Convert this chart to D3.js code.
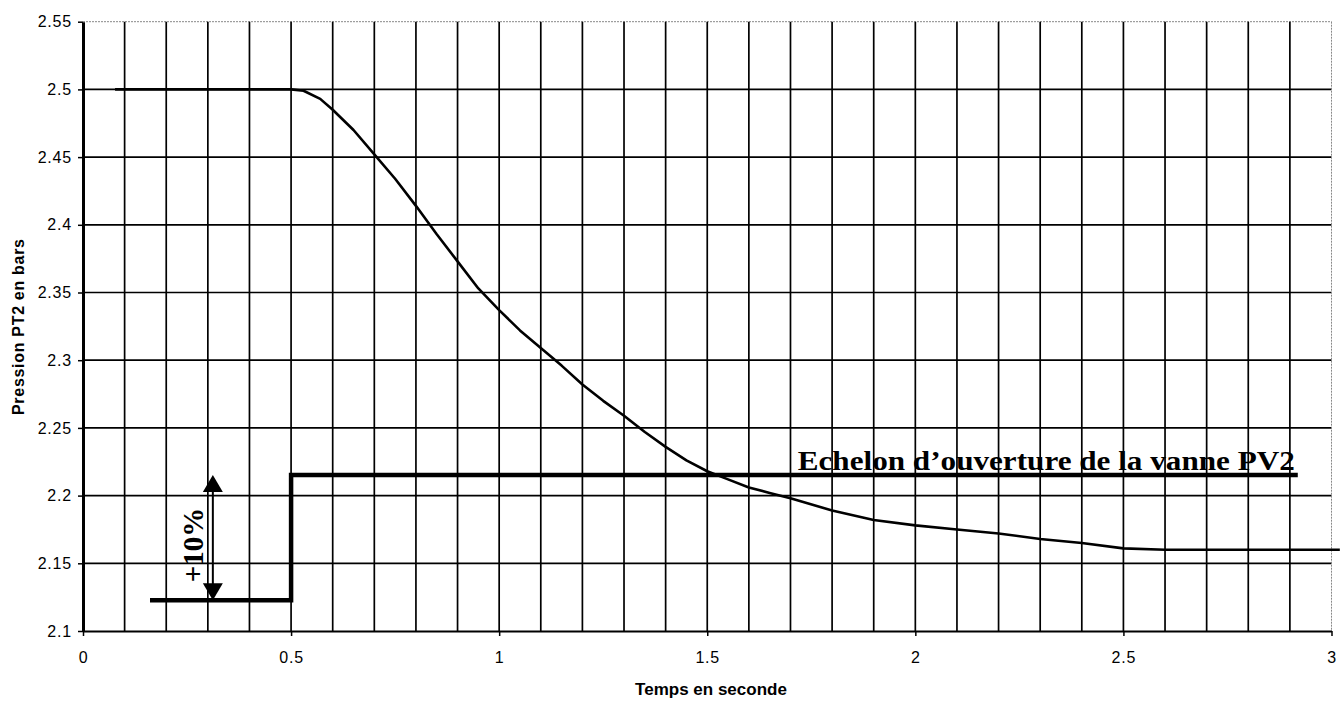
<!DOCTYPE html>
<html>
<head>
<meta charset="utf-8">
<script src="https://cdn.jsdelivr.net/npm/d3@7"></script>
<style>
  html, body { margin: 0; padding: 0; background: #fff; }
  svg { display: block; }
  .tick-lbl { font-family: "Liberation Sans", Arial, sans-serif; font-size: 16px; letter-spacing: 0.8px; fill: #000; }
  .ax-title { font-family: "Liberation Sans", Arial, sans-serif; font-weight: bold; fill: #000; }
  .note { font-family: "Liberation Serif", "Times New Roman", serif; font-weight: bold; fill: #000; }
</style>
</head>
<body>
<script>
// pressure response PT2 (bars) vs time (s)
const timeS = [0.077, 0.5, 0.53, 0.57, 0.6, 0.65, 0.7, 0.75, 0.8, 0.85, 0.9, 0.95, 1.0,
               1.05, 1.1, 1.15, 1.2, 1.25, 1.3, 1.35, 1.4, 1.45, 1.5, 1.55, 1.6, 1.65, 1.7,
               1.8, 1.9, 2.0, 2.1, 2.2, 2.3, 2.4, 2.5, 2.6, 2.8, 3.02];
const pressure = [2.5, 2.5, 2.499, 2.493, 2.485, 2.47, 2.452, 2.434, 2.414, 2.393, 2.373, 2.353, 2.337,
                  2.322, 2.309, 2.296, 2.282, 2.27, 2.259, 2.247, 2.236, 2.226, 2.218, 2.212, 2.206, 2.202, 2.198,
                  2.189, 2.182, 2.178, 2.175, 2.172, 2.168, 2.165, 2.161, 2.16, 2.16, 2.16];

// valve step (drawn on the same pressure scale)
const stepT = [0.161, 0.5, 0.5, 2.919];
const stepV = [2.1227, 2.1227, 2.2152, 2.2152];

const yTicks = [2.1, 2.15, 2.2, 2.25, 2.3, 2.35, 2.4, 2.45, 2.5, 2.55];
const xTicks = [0, 0.5, 1, 1.5, 2, 2.5, 3];
const xGrid = d3.range(1, 31).map(i => i / 10);

const arrowT = 0.312, arrowTop = 2.2152, arrowBot = 2.1227;
const stepLabel = "Echelon d\u2019ouverture de la vanne PV2";
const pctLabel = "+10%";

const W = 1340, H = 702;
const x = d3.scaleLinear().domain([0, 3]).range([83, 1331.5]);
const y = d3.scaleLinear().domain([2.1, 2.55]).range([631, 21.7]);

const svg = d3.select("body").append("svg").attr("width", W).attr("height", H);

// ── Grid ──────────────────────────────────────────────
const grid = svg.append("g");
grid.selectAll("line.hg")
    .data(yTicks.slice(1))
    .join("line")
    .attr("x1", x(0)).attr("x2", x(3))
    .attr("y1", d => y(d)).attr("y2", d => y(d))
    .attr("stroke", d => d === 2.55 ? "#888" : "#000")
    .attr("stroke-width", d => d === 2.55 ? 1 : 1.7)
    .attr("stroke-dasharray", d => d === 2.55 ? "2,1" : null);
grid.selectAll("line.vg")
    .data(xGrid)
    .join("line")
    .attr("x1", d => x(d)).attr("x2", d => x(d))
    .attr("y1", y(2.55)).attr("y2", y(2.1))
    .attr("stroke", (d, i) => i === xGrid.length - 1 ? "#888" : "#000")
    .attr("stroke-width", (d, i) => i === xGrid.length - 1 ? 1 : 1.7)
    .attr("stroke-dasharray", (d, i) => i === xGrid.length - 1 ? "2,1" : null);

// ── Axes ──────────────────────────────────────────────
const yAxis = svg.append("g").attr("transform", `translate(${x(0)},0)`)
    .call(d3.axisLeft(y).tickValues(yTicks).tickSize(5).tickSizeOuter(0).tickPadding(6).tickFormat(d3.format("")));
const xAxis = svg.append("g").attr("transform", `translate(0,${y(2.1)})`)
    .call(d3.axisBottom(x).tickValues(xTicks).tickSize(5).tickSizeOuter(0).tickPadding(22).tickFormat(d3.format("")));
[yAxis, xAxis].forEach(a => {
    a.select(".domain").attr("stroke", "#000");
    a.selectAll(".tick line").attr("stroke", "#000").attr("stroke-width", 1.5);
    a.selectAll(".tick text").attr("class", "tick-lbl").attr("font-size", null).attr("font-family", null);
});
yAxis.select(".domain").attr("stroke-width", 3);
xAxis.select(".domain").attr("stroke-width", 2);
xAxis.selectAll(".tick text").attr("dy", "0.3em");

svg.append("text").attr("class", "ax-title")
    .attr("x", 711).attr("y", 695)
    .attr("text-anchor", "middle")
    .attr("font-size", 17)
    .text("Temps en seconde");
svg.append("text").attr("class", "ax-title")
    .attr("transform", "translate(23.5,327) rotate(-90)")
    .attr("text-anchor", "middle")
    .attr("font-size", 16).attr("textLength", 176).attr("lengthAdjust", "spacing")
    .text("Pression PT2 en bars");

// ── Series ────────────────────────────────────────────
const line = d3.line().x(d => x(d[0])).y(d => y(d[1]));
svg.append("path")
    .datum(timeS.map((t, i) => [t, pressure[i]]))
    .attr("fill", "none").attr("stroke", "#000").attr("stroke-width", 2.6)
    .attr("stroke-linejoin", "round")
    .attr("d", line);
svg.append("path")
    .datum(stepT.map((t, i) => [t, stepV[i]]))
    .attr("fill", "none").attr("stroke", "#000").attr("stroke-width", 4.5)
    .attr("d", line);

// ── Annotations ───────────────────────────────────────
const ax = x(arrowT), aTop = y(arrowTop), aBot = y(arrowBot);
svg.append("line")
    .attr("x1", ax).attr("x2", ax)
    .attr("y1", aTop + 12).attr("y2", aBot - 12)
    .attr("stroke", "#000").attr("stroke-width", 2);
svg.append("path")
    .attr("d", `M${ax},${aTop} L${ax - 10},${aTop + 17} L${ax + 10},${aTop + 17} Z`)
    .attr("fill", "#000");
svg.append("path")
    .attr("d", `M${ax},${aBot} L${ax - 10},${aBot - 17} L${ax + 10},${aBot - 17} Z`)
    .attr("fill", "#000");

svg.append("text").attr("class", "note")
    .attr("transform", `translate(${x(0.288)},${y(2.1635)}) rotate(-90)`)
    .attr("text-anchor", "middle")
    .attr("font-size", 29)
    .text(pctLabel);

svg.append("text").attr("class", "note")
    .attr("x", x(1.7175)).attr("y", y(2.219))
    .attr("font-size", 27.5).attr("textLength", 497).attr("lengthAdjust", "spacingAndGlyphs")
    .text(stepLabel);
</script>
</body>
</html>
